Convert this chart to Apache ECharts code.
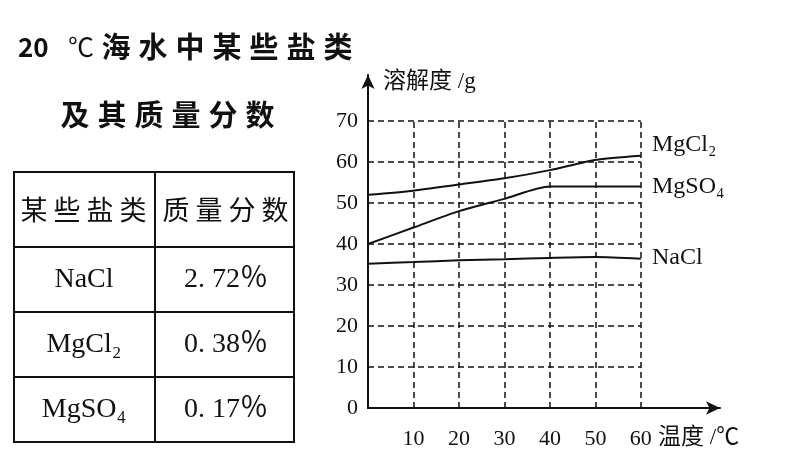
<!DOCTYPE html><html><head><meta charset="utf-8">
<script src="https://cdn.jsdelivr.net/npm/echarts@6/dist/echarts.min.js"></script>
<style>body{margin:0;background:#fff}#c{width:804px;height:471px}</style></head><body><div id="c"></div>
<script>
const temps=[0,10,20,30,40,50,60];
const mgcl2=[52,53,54.5,56,58,60.5,61.5];
const mgso4=[40,44,48,51,54,54,54];
const nacl=[35.2,35.6,36,36.3,36.6,36.8,36.4];
const xTicks=[10,20,30,40,50,60];
const yTicks=[0,10,20,30,40,50,60,70];
const tableRows=[["某些盐类","质量分数"],["NaCl","2. 72％"],["MgCl₂","0. 38％"],["MgSO₄","0. 17％"]];
const serif='"Liberation Serif","Noto Sans CJK SC",serif';
const cjk='"Noto Sans CJK SC",sans-serif';
const chart=echarts.init(document.getElementById('c'));
const grid=[];
xTicks.forEach(x=>grid.push([{coord:[x,0]},{coord:[x,70]}]));
yTicks.slice(1).forEach(y=>grid.push([{coord:[0,y]},{coord:[60,y]}]));
const mk=(d)=>({type:'line',data:temps.map((t,i)=>[t,d[i]]),smooth:0.25,symbol:'none',lineStyle:{color:'#111',width:2},silent:true});
const s0=mk(mgcl2);
s0.markLine={symbol:'none',silent:true,label:{show:false},lineStyle:{type:[6,4],color:'#111',width:1.5},data:grid};
const g=[];
const rowsY=[172,247,312,377,442];
g.push({type:'rect',shape:{x:14,y:172,width:280,height:270},style:{fill:'none',stroke:'#111',lineWidth:2}});
rowsY.slice(1,4).forEach(y=>g.push({type:'line',shape:{x1:14,y1:y,x2:294,y2:y},style:{stroke:'#111',lineWidth:2}}));
g.push({type:'line',shape:{x1:155,y1:172,x2:155,y2:442},style:{stroke:'#111',lineWidth:2}});
function spaced(str,x0,step,y,size,font,weight){[...str].forEach((ch,k)=>g.push({type:'text',x:x0+k*step,y:y,style:{text:ch,fontFamily:font,fontSize:size,fontWeight:weight||'normal',fill:'#111',align:'center',verticalAlign:'middle'}}));}
tableRows.forEach((r,i)=>{const yc=(rowsY[i]+rowsY[i+1])/2;
 if(i==0){spaced(r[0],34,33,yc,27,cjk);spaced(r[1],176,33,yc,27,cjk);}
 else {g.push({type:'text',x:84,y:yc,style:{text:r[0],fontFamily:serif,fontSize:28,fill:'#111',align:'center',verticalAlign:'middle'}});
  g.push({type:'text',x:226,y:yc,style:{text:r[1],fontFamily:serif,fontSize:28,fill:'#111',align:'center',verticalAlign:'middle'}});}});
g.push({type:'text',x:18,y:47,style:{text:'20',fontFamily:cjk,fontWeight:'bold',fontSize:26,fill:'#111',verticalAlign:'middle'}});
g.push({type:'text',x:68,y:47,style:{text:'℃',fontFamily:cjk,fontSize:26,fill:'#111',verticalAlign:'middle'}});
spaced('海水中某些盐类',116,37,47,29,cjk,'bold');
spaced('及其质量分数',75,37,115,29,cjk,'bold');
g.push({type:'text',x:383,y:82,style:{text:'溶解度 /g',fontFamily:serif,fontSize:23,fill:'#111',verticalAlign:'middle'}});
g.push({type:'text',x:658,y:438,style:{text:'温度 /℃',fontFamily:serif,fontSize:23,fill:'#111',verticalAlign:'middle'}});
[['MgCl₂',145],['MgSO₄',187],['NaCl',258]].forEach(([t,y])=>g.push({type:'text',x:652,y:y,style:{text:t,fontFamily:serif,fontSize:24,fill:'#111',verticalAlign:'middle'}}));
chart.setOption({animation:false,
grid:{left:368,right:84,top:75,bottom:63},
xAxis:{type:'value',min:0,max:77.4,interval:10,axisLine:{symbol:['none','arrow'],symbolSize:[10,14],lineStyle:{color:'#111',width:2}},axisTick:{show:false},splitLine:{show:false},
 axisLabel:{margin:20,fontFamily:serif,fontSize:22,color:'#111',formatter:v=>xTicks.includes(v)?String(v):''}},
yAxis:{type:'value',min:0,max:81.2,interval:10,axisLine:{show:true,symbol:['none','arrow'],symbolSize:[10,14],lineStyle:{color:'#111',width:2}},axisTick:{show:false},splitLine:{show:false},
 axisLabel:{margin:10,fontFamily:serif,fontSize:22,color:'#111',formatter:v=>yTicks.includes(v)?String(v):''}},
series:[s0,mk(mgso4),mk(nacl)],graphic:g});
</script></body></html>
